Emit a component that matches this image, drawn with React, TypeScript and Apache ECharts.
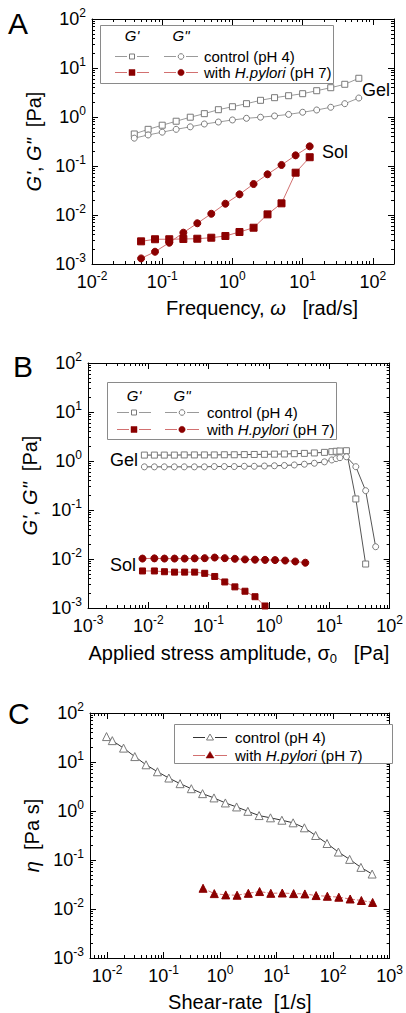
import React, { useEffect, useRef } from "react";
import * as echarts from "echarts";

const FONT = "'Liberation Sans', Arial, Helvetica, sans-serif";
const RED = "#8b0000";
const RED_LINE = "#d27070";
const GRAY_MARK = "#7a7a7a";
const GRAY_LINE = "#9a9a9a";
const DARK_LINE = "#333333";

// ---------- Panel A : frequency sweep ----------
const A_CTRL_FREQ = [0.04, 0.063, 0.1, 0.158, 0.251, 0.398, 0.631, 1, 1.585, 2.512, 3.981, 6.31, 10, 15.85, 25.12, 39.81, 63.1];
const A_CTRL_GP = [0.45, 0.56, 0.68, 0.82, 0.99, 1.17, 1.41, 1.62, 1.87, 2.19, 2.48, 2.72, 2.99, 3.44, 3.96, 4.65, 6.17];
const A_CTRL_GPP = [0.37, 0.43, 0.49, 0.56, 0.63, 0.72, 0.79, 0.87, 0.94, 0.99, 1.05, 1.13, 1.25, 1.39, 1.58, 1.87, 2.44];
const A_HP_FREQ = [0.05, 0.079, 0.126, 0.2, 0.316, 0.5, 0.794, 1.26, 2, 3.16, 5, 7.94, 12.6];
const A_HP_GP = [0.0029, 0.0032, 0.0032, 0.00324, 0.00328, 0.00344, 0.00373, 0.0045, 0.0055, 0.0103, 0.0173, 0.073, 0.151];
const A_HP_GPP = [0.0013, 0.00178, 0.00272, 0.00436, 0.00678, 0.0106, 0.017, 0.0264, 0.0429, 0.0677, 0.105, 0.165, 0.252];

// ---------- Panel B : stress amplitude sweep ----------
const B_CTRL_STRESS = [0.0086, 0.0126, 0.0184, 0.027, 0.0394, 0.058, 0.085, 0.124, 0.182, 0.266, 0.39, 0.57, 0.84, 1.23, 1.8, 2.63, 3.86, 5.65, 8.3, 11.0, 13.0, 15.0, 19.2, 27.5, 40, 58.6];
const B_CTRL_GP = [1.32, 1.32, 1.32, 1.32, 1.33, 1.33, 1.33, 1.33, 1.34, 1.34, 1.35, 1.36, 1.37, 1.38, 1.39, 1.41, 1.43, 1.46, 1.5, 1.55, 1.58, 1.6, 1.62, 0.168, 0.0079, null];
const B_CTRL_GPP = [0.76, 0.76, 0.76, 0.76, 0.76, 0.76, 0.76, 0.77, 0.77, 0.77, 0.78, 0.78, 0.79, 0.8, 0.81, 0.83, 0.86, 0.9, 0.96, 1.05, 1.12, 1.17, 1.22, 0.765, 0.248, 0.0178];
const B_HP_STRESS = [0.008, 0.0126, 0.0185, 0.0272, 0.04, 0.0586, 0.086, 0.126, 0.185, 0.272, 0.4, 0.586, 0.86, 1.26, 1.85, 2.72, 4.0];
const B_HP_GPP = [0.0102, 0.0103, 0.0102, 0.0102, 0.0102, 0.0103, 0.0104, 0.0107, 0.0104, 0.0101, 0.0098, 0.0097, 0.0096, 0.0095, 0.0093, 0.0089, 0.0084];
const B_HP_GP = [0.0057, 0.0057, 0.0055, 0.0054, 0.0054, 0.0054, 0.0051, 0.0044, 0.0034, 0.0027, 0.0022, 0.0017, 0.0011];

// ---------- Panel C : viscosity ----------
const C_CTRL_RATE = [0.0098, 0.0124, 0.0196, 0.031, 0.049, 0.078, 0.124, 0.196, 0.31, 0.49, 0.78, 1.24, 1.96, 3.1, 4.9, 7.8, 12.4, 19.6, 31, 49, 78, 124, 196, 310, 490];
const C_CTRL_ETA = [33.0, 27.3, 19.2, 12.9, 8.77, 6.32, 4.71, 3.61, 2.85, 2.26, 1.85, 1.46, 1.21, 0.986, 0.807, 0.725, 0.648, 0.574, 0.454, 0.316, 0.217, 0.145, 0.103, 0.0707, 0.0517];
const C_HP_RATE = [0.5, 0.79, 1.26, 2, 3.16, 5, 7.9, 12.6, 20, 31.6, 50, 79, 126, 200, 316, 500];
const C_HP_ETA = [0.0265, 0.0206, 0.0194, 0.0191, 0.0209, 0.0227, 0.0209, 0.0212, 0.0206, 0.0203, 0.0188, 0.0182, 0.0174, 0.016, 0.0149, 0.0136];

// ---------- tick values ----------
const Y_TICKS = [0.001, 0.01, 0.1, 1, 10, 100];
const A_X_TICKS = [0.01, 0.1, 1, 10, 100];
const B_X_TICKS = [0.001, 0.01, 0.1, 1, 10, 100];
const C_X_TICKS = [0.01, 0.1, 1, 10, 100, 1000];

function minorTicks(min: number, max: number) {
  const out: number[] = [];
  const lo = Math.floor(Math.log10(min));
  const hi = Math.ceil(Math.log10(max));
  for (let e = lo; e <= hi; e++) {
    for (let k = 2; k <= 9; k++) {
      const v = +(k * Math.pow(10, e)).toPrecision(4);
      if (v > min * 1.0001 && v < max * 0.9999) out.push(v);
    }
  }
  return out;
}

function logLabel(v: number) {
  const e = Math.round(Math.log10(v));
  return `{b|10}{s|${e}}`;
}

const LABEL_RICH = {
  b: { fontSize: 18, lineHeight: 24, fontFamily: FONT, color: "#000" },
  s: { fontSize: 12, lineHeight: 12, fontFamily: FONT, color: "#000", verticalAlign: "top" },
};

const NAME_RICH = {
  n: { fontSize: 20, lineHeight: 22, fontFamily: FONT, color: "#000" },
  i: { fontSize: 20, lineHeight: 22, fontFamily: FONT, color: "#000", fontStyle: "italic" },
  sub: { fontSize: 13, lineHeight: 13, fontFamily: FONT, color: "#000", padding: [10, 0, 0, 0] },
};

function buildAxes(
  dim: "x" | "y",
  grid: number,
  min: number,
  max: number,
  majors: number[],
  name: string,
  nameGap: number,
  namePad: number[] = [0, 0, 0, 0]
) {
  const minors = minorTicks(min, max);
  const base: any = {
    type: "log",
    logBase: 10,
    gridIndex: grid,
    min,
    max,
    splitLine: { show: false },
    minorTick: { show: false },
    minorSplitLine: { show: false },
    silent: true,
    axisPointer: { show: false },
  };
  const line = { show: true, onZero: false, lineStyle: { color: "#000", width: 1 } };
  const majorTick = { show: true, inside: true, length: 6, customValues: majors, lineStyle: { color: "#000", width: 1 } };
  const minorTick = { show: true, inside: true, length: 3, customValues: minors, lineStyle: { color: "#000", width: 1 } };
  const p0 = dim === "x" ? "bottom" : "left";
  const p1 = dim === "x" ? "top" : "right";
  return [
    {
      ...base,
      position: p0,
      axisLine: line,
      axisTick: majorTick,
      axisLabel: { show: true, customValues: majors, formatter: logLabel, rich: LABEL_RICH, margin: 6, color: "#000" },
      name,
      nameLocation: "middle",
      nameGap,
      nameTextStyle: { rich: NAME_RICH, padding: namePad, fontFamily: FONT, fontSize: 20, color: "#000" },
    },
    { ...base, position: p0, axisLine: { show: false }, axisTick: minorTick, axisLabel: { show: false } },
    { ...base, position: p1, axisLine: line, axisTick: majorTick, axisLabel: { show: false } },
    { ...base, position: p1, axisLine: { show: false }, axisTick: minorTick, axisLabel: { show: false } },
  ];
}

function pairs(xs: number[], ys: (number | null)[]) {
  const out: number[][] = [];
  xs.forEach((x, i) => {
    const y = ys[i];
    if (y != null) out.push([x, y]);
  });
  return out;
}

function series(
  grid: number,
  name: string,
  xs: number[],
  ys: (number | null)[],
  symbol: string,
  size: number,
  filled: boolean,
  markColor: string,
  lineColor: string,
  dashed = false
) {
  return {
    type: "line",
    name,
    xAxisIndex: grid * 4,
    yAxisIndex: grid * 4,
    data: pairs(xs, ys),
    symbol,
    symbolSize: size,
    showSymbol: true,
    silent: true,
    clip: true,
    z: filled ? 4 : 3,
    itemStyle: filled
      ? { color: markColor, borderColor: markColor, borderWidth: 1 }
      : { color: "#ffffff", borderColor: markColor, borderWidth: 1 },
    lineStyle: { color: lineColor, width: 1, type: dashed ? [4, 2] : "solid" },
    emphasis: { disabled: true },
  };
}

const TXT = (x: number, y: number, text: string, size: number, extra: any = {}) => ({
  type: "text",
  x,
  y,
  z: 100,
  silent: true,
  style: {
    text,
    fontFamily: FONT,
    fontSize: size,
    fill: "#000",
    textAlign: "left",
    textVerticalAlign: "middle",
    ...extra,
  },
});

const LEG_RICH = {
  a: { fontSize: 15, fontFamily: FONT, fill: "#000", color: "#000" },
  i: { fontSize: 15, fontFamily: FONT, fill: "#000", color: "#000", fontStyle: "italic" },
};

function hline(x1: number, x2: number, y: number, color: string) {
  return { type: "line", z: 100, silent: true, shape: { x1, y1: y, x2, y2: y }, style: { stroke: color, lineWidth: 1 } };
}

function legendAB(bx: number, by: number, bw: number, bh: number, c1: number, c2: number, tx: number, hy: number, r1: number, r2: number) {
  const els: any[] = [];
  els.push({ type: "rect", z: 99, silent: true, shape: { x: bx + 0.5, y: by + 0.5, width: bw, height: bh }, style: { fill: "#fff", stroke: "#8a8a8a", lineWidth: 1 } });
  els.push(TXT(c1, hy, "G'", 15, { textAlign: "center", fontStyle: "italic" }));
  els.push(TXT(c2, hy, 'G"', 15, { textAlign: "center", fontStyle: "italic" }));
  // row 1 : control
  els.push(hline(c1 - 17, c1 - 5, r1 + 0.5, GRAY_LINE), hline(c1 + 5, c1 + 17, r1 + 0.5, GRAY_LINE));
  els.push({ type: "rect", z: 100, silent: true, shape: { x: c1 - 2.5, y: r1 - 2, width: 5, height: 5 }, style: { fill: "#fff", stroke: GRAY_MARK, lineWidth: 1 } });
  els.push(hline(c2 - 17, c2 - 5, r1 + 0.5, GRAY_LINE), hline(c2 + 5, c2 + 17, r1 + 0.5, GRAY_LINE));
  els.push({ type: "circle", z: 100, silent: true, shape: { cx: c2, cy: r1 + 0.5, r: 2.8 }, style: { fill: "#fff", stroke: GRAY_MARK, lineWidth: 1 } });
  els.push(TXT(tx, r1, "control (pH 4)", 15));
  // row 2 : H. pylori
  els.push(hline(c1 - 17, c1 - 5, r2 + 0.5, RED_LINE), hline(c1 + 5, c1 + 17, r2 + 0.5, RED_LINE));
  els.push({ type: "rect", z: 100, silent: true, shape: { x: c1 - 3, y: r2 - 2.5, width: 6, height: 6 }, style: { fill: RED, stroke: RED, lineWidth: 0.5 } });
  els.push(hline(c2 - 17, c2 - 5, r2 + 0.5, RED_LINE), hline(c2 + 5, c2 + 17, r2 + 0.5, RED_LINE));
  els.push({ type: "circle", z: 100, silent: true, shape: { cx: c2, cy: r2 + 0.5, r: 3.2 }, style: { fill: RED, stroke: RED, lineWidth: 0.5 } });
  els.push(TXT(tx, r2, "{a|with }{i|H.pylori}{a| (pH 7)}", 15, { rich: LEG_RICH }));
  return els;
}

function legendC(bx: number, by: number, bw: number, bh: number, c1: number, tx: number, r1: number, r2: number) {
  const els: any[] = [];
  els.push({ type: "rect", z: 99, silent: true, shape: { x: bx + 0.5, y: by + 0.5, width: bw, height: bh }, style: { fill: "#fff", stroke: "#8a8a8a", lineWidth: 1 } });
  els.push(hline(c1 - 17, c1 - 5, r1 + 0.5, DARK_LINE), hline(c1 + 5, c1 + 17, r1 + 0.5, DARK_LINE));
  els.push({ type: "polygon", z: 100, silent: true, shape: { points: [[c1, r1 - 3], [c1 - 3.5, r1 + 3], [c1 + 3.5, r1 + 3]] }, style: { fill: "#fff", stroke: GRAY_MARK, lineWidth: 1 } });
  els.push(TXT(tx, r1, "control (pH 4)", 15));
  els.push(hline(c1 - 17, c1 - 5, r2 + 0.5, RED_LINE), hline(c1 + 5, c1 + 17, r2 + 0.5, RED_LINE));
  els.push({ type: "polygon", z: 100, silent: true, shape: { points: [[c1, r2 - 3.5], [c1 - 4, r2 + 3], [c1 + 4, r2 + 3]] }, style: { fill: RED, stroke: RED, lineWidth: 0.5 } });
  els.push(TXT(tx, r2, "{a|with }{i|H.pylori}{a| (pH 7)}", 15, { rich: LEG_RICH }));
  return els;
}

export default function App() {
  const ref = useRef<HTMLDivElement>(null);

  useEffect(() => {
    if (!ref.current) return;
    const chart = echarts.init(ref.current, undefined, { renderer: "svg" });

    const xAxis = [
      ...buildAxes("x", 0, 0.01, 200, A_X_TICKS, "{n|Frequency, }{i|ω}{n|   [rad/s]}", 33, [0, 0, 0, 38]),
      ...buildAxes("x", 1, 0.001, 100, B_X_TICKS, "{n|Applied stress amplitude, σ}{sub|0}{n|   [Pa]}", 34),
      ...buildAxes("x", 2, 0.005, 1000, C_X_TICKS, "{n|Shear-rate  [1/s]}", 33),
    ];
    const yAxis = [
      ...buildAxes("y", 0, 0.001, 100, Y_TICKS, "{i|G'}{n|, }{i|G\"}{n|  [Pa]}", 41),
      ...buildAxes("y", 1, 0.001, 100, Y_TICKS, "{i|G'}{n|, }{i|G\"}{n|  [Pa]}", 38),
      ...buildAxes("y", 2, 0.001, 100, Y_TICKS, "{i|η}{n|  [Pa s]}", 40),
    ];

    const graphic: any[] = [
      TXT(8, 23, "A", 30),
      TXT(13, 366, "B", 30),
      TXT(8, 713, "C", 30),
      TXT(362, 90, "Gel", 18),
      TXT(322, 152, "Sol", 18),
      TXT(110, 460, "Gel", 18),
      TXT(110, 565, "Sol", 18),
      ...legendAB(100, 25, 233, 58, 132, 181, 204, 35, 56, 72),
      ...legendAB(107, 382, 229, 57, 134, 182, 207, 395, 412, 429),
      ...legendC(174, 724, 218, 39, 210, 235, 737, 755),
    ];

    const option: any = {
      animation: false,
      backgroundColor: "#ffffff",
      textStyle: { fontFamily: FONT },
      grid: [
        { left: 92, top: 19, width: 302, height: 245 },
        { left: 88, top: 363, width: 304, height: 245 },
        { left: 90, top: 713, width: 303, height: 246 },
      ],
      xAxis,
      yAxis,
      series: [
        series(0, "control G'", A_CTRL_FREQ, A_CTRL_GP, "rect", 6, false, GRAY_MARK, GRAY_LINE),
        series(0, "control G''", A_CTRL_FREQ, A_CTRL_GPP, "circle", 6, false, GRAY_MARK, GRAY_LINE),
        series(0, "H.pylori G'", A_HP_FREQ, A_HP_GP, "rect", 7, true, RED, RED_LINE),
        series(0, "H.pylori G''", A_HP_FREQ, A_HP_GPP, "circle", 7, true, RED, RED_LINE),
        series(1, "control G'", B_CTRL_STRESS, B_CTRL_GP, "rect", 6, false, GRAY_MARK, "#555555"),
        series(1, "control G''", B_CTRL_STRESS, B_CTRL_GPP, "circle", 6, false, GRAY_MARK, "#555555"),
        series(1, "H.pylori G'", B_HP_STRESS, B_HP_GP, "rect", 6, true, RED, RED_LINE),
        series(1, "H.pylori G''", B_HP_STRESS, B_HP_GPP, "circle", 7, true, RED, RED_LINE),
        series(2, "control", C_CTRL_RATE, C_CTRL_ETA, "triangle", 8, false, GRAY_MARK, DARK_LINE),
        series(2, "with H.pylori", C_HP_RATE, C_HP_ETA, "triangle", 8, true, RED, RED_LINE, true),
      ],
      graphic,
    };

    chart.setOption(option);
    return () => chart.dispose();
  }, []);

  return (
    <div
      ref={ref}
      style={{ position: "absolute", left: 0, top: 0, width: 406, height: 1013, background: "#fff" }}
    />
  );
}
